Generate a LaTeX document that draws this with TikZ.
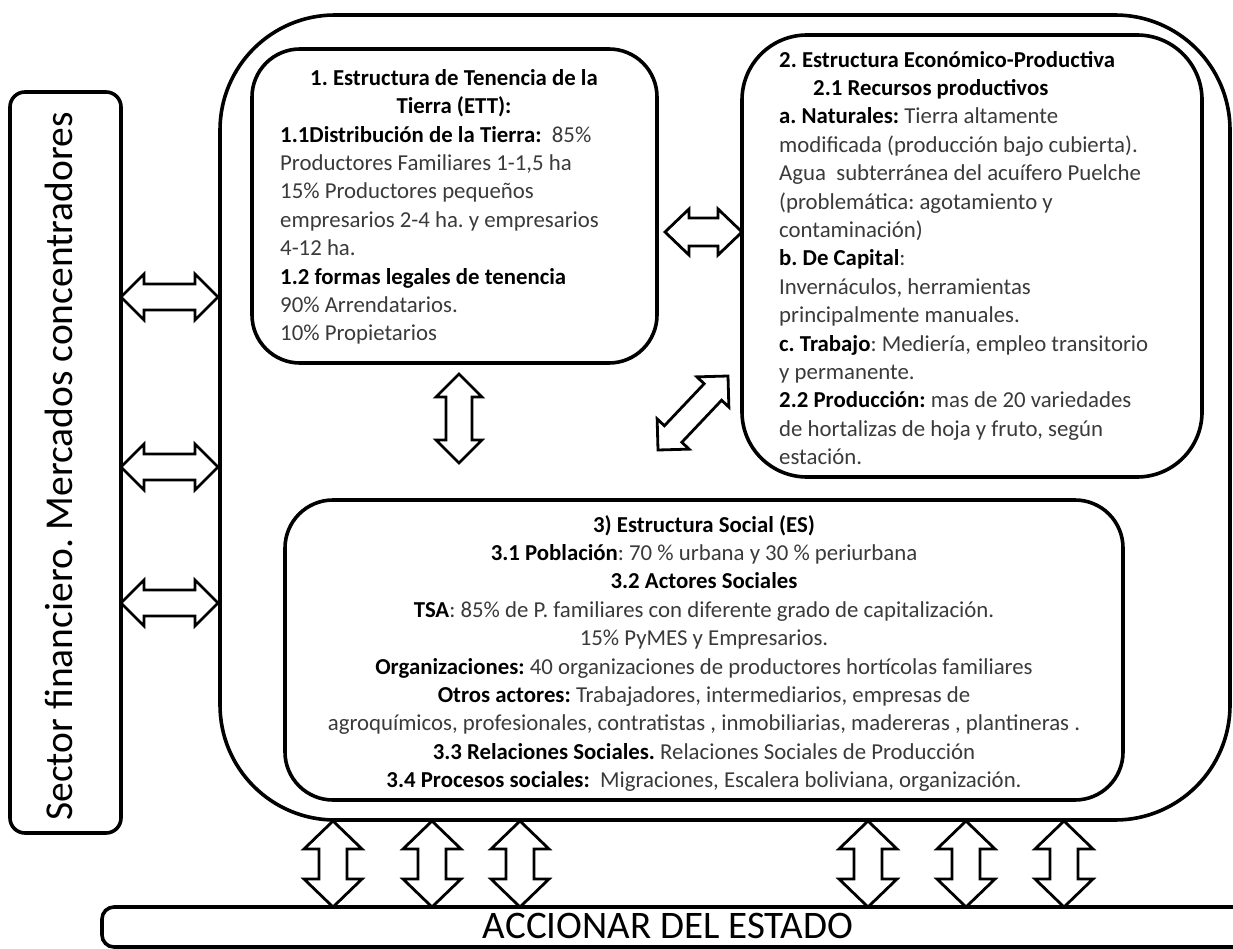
\documentclass[tikz,border=0pt]{standalone}
\usepackage{fontspec}
\setmainfont{Carlito}
\usetikzlibrary{calc}
\definecolor{txt}{HTML}{3A3A3A}
\frenchspacing
\newcommand{\B}[1]{\textcolor{black}{\bfseries #1}}
\tikzset{
 rbox/.style={draw=black, line width=3.6pt, rounded corners=#1, inner sep=0pt},
 blockarrow/.style={draw=black, fill=white, line width=2.8pt, line join=miter},
 body/.style={inner sep=0pt, font=\fontsize{22.8}{28.4}\selectfont, text=txt},
}
\newcommand{\dblarrow}[5]{%
 \coordinate (da1) at ($(#1)!#3!(#2)$);
 \coordinate (da2) at ($(#2)!#3!(#1)$);
 \draw[blockarrow] (#1) -- ($(da1)!#4!90:(#2)$) -- ($(da1)!#5!90:(#2)$) -- ($(da2)!#5!-90:(#1)$) -- ($(da2)!#4!-90:(#1)$) -- (#2) -- ($(da2)!#4!90:(#1)$) -- ($(da2)!#5!90:(#1)$) -- ($(da1)!#5!-90:(#2)$) -- ($(da1)!#4!-90:(#2)$) -- cycle;}
\begin{document}
\begin{tikzpicture}[x=1pt,y=-1pt]
\useasboundingbox (0,0) rectangle (1233,949);
\clip (0,0) rectangle (1233,949);
\fill[white] (0,0) rectangle (1233,949);

% boxes
\node[rbox=115pt, minimum width=1010pt, minimum height=805pt] (outer) at (725,417.5) {};
\node[rbox=48pt, minimum width=405pt, minimum height=314pt] (ett) at (454.5,206) {};
\node[rbox=65pt, minimum width=460pt, minimum height=442pt] (econ) at (972,256) {};
\node[rbox=48pt, minimum width=838pt, minimum height=300pt] (social) at (704,650) {};
\node[rbox=15pt, minimum width=111pt, minimum height=741pt] (sector) at (65.5,462.5) {};
\node[rbox=12pt, minimum width=1160pt, minimum height=40pt] (estado) at (682,927) {};

% texts
\node[body, anchor=north, align=center] (ettT) at (454,65)
 {\strut\B{1. Estructura de Tenencia de la}\\\B{Tierra (ETT):}};
\node[body, anchor=north west, align=left] (ettB) at (280,122)
 {\strut\B{1.1Distribución de la Tierra:}\ \ 85\%\\
  Productores Familiares 1-1,5 ha\\
  15\% Productores pequeños\\
  empresarios 2-4 ha. y empresarios\\
  4-12 ha.\\
  \B{1.2 formas legales de tenencia}\\
  90\% Arrendatarios.\\
  10\% Propietarios};
\node[body, anchor=north west, align=left] (econT) at (779,47)
 {\strut\B{2. Estructura Económico-Productiva}\\
  \hspace*{34pt}\B{2.1 Recursos productivos}\\
  \B{a. Naturales:} Tierra altamente\\
  modificada (producción bajo cubierta).\\
  Agua\ \ subterránea del acuífero Puelche\\
  (problemática: agotamiento y\\
  contaminación)\\
  \B{b. De Capital}:\\
  Invernáculos, herramientas\\
  principalmente manuales.\\
  \B{c. Trabajo}: Mediería, empleo transitorio\\
  y permanente.\\
  \B{2.2 Producción:} mas de 20 variedades\\
  de hortalizas de hoja y fruto, según\\
  estación.};
\node[body, anchor=north, align=center] (socT) at (704,512)
 {\strut\B{3) Estructura Social (ES)}\\
  \B{3.1 Población}: 70 \% urbana y 30 \% periurbana\\
  \B{3.2 Actores Sociales}\\
  \B{TSA}: 85\% de P. familiares con diferente grado de capitalización.\\
  15\% PyMES y Empresarios.\\
  \B{Organizaciones:} 40 organizaciones de productores hortícolas familiares\\
  \B{Otros actores:} Trabajadores, intermediarios, empresas de\\
  agroquímicos, profesionales, contratistas , inmobiliarias, madereras , plantineras .\\
  \B{3.3 Relaciones Sociales.} Relaciones Sociales de Producción\\
  \B{3.4 Procesos sociales:}\ \ Migraciones, Escalera boliviana, organización.};
\node[inner sep=0pt, rotate=90, anchor=base, font=\fontsize{39.5}{42}\selectfont, text=black] (sectorT) at (72,466.5)
 {Sector financiero. Mercados concentradores};
\node[inner sep=0pt, anchor=base, font=\fontsize{39}{42}\selectfont, text=black] (estadoT) at (668,938)
 {ACCIONAR DEL ESTADO};

% arrow end points
\coordinate (l1a) at (121,297); \coordinate (l1b) at (218,297);
\coordinate (l2a) at (121,467); \coordinate (l2b) at (218,467);
\coordinate (l3a) at (121,603); \coordinate (l3b) at (218,603);
\coordinate (ha) at (665,232); \coordinate (hb) at (742,232);
\coordinate (va) at (459,374); \coordinate (vb) at (459,463);
\coordinate (dga) at (658,450); \coordinate (dgb) at (728,376);
\foreach \x/\n in {333/1,432/2,520/3,868/4,966/5,1064/6}{
 \coordinate (b\n a) at (\x,821); \coordinate (b\n b) at (\x,907);}

\dblarrow{l1a}{l1b}{23pt}{23pt}{13pt}
\dblarrow{l2a}{l2b}{23pt}{23pt}{13pt}
\dblarrow{l3a}{l3b}{23pt}{23pt}{13pt}
\dblarrow{ha}{hb}{24pt}{23pt}{14pt}
\dblarrow{va}{vb}{23pt}{23pt}{13pt}
\dblarrow{dga}{dgb}{22pt}{22pt}{12pt}
\foreach \n in {1,...,6}{\dblarrow{b\n a}{b\n b}{28pt}{29pt}{14pt}}
\end{tikzpicture}
\end{document}
